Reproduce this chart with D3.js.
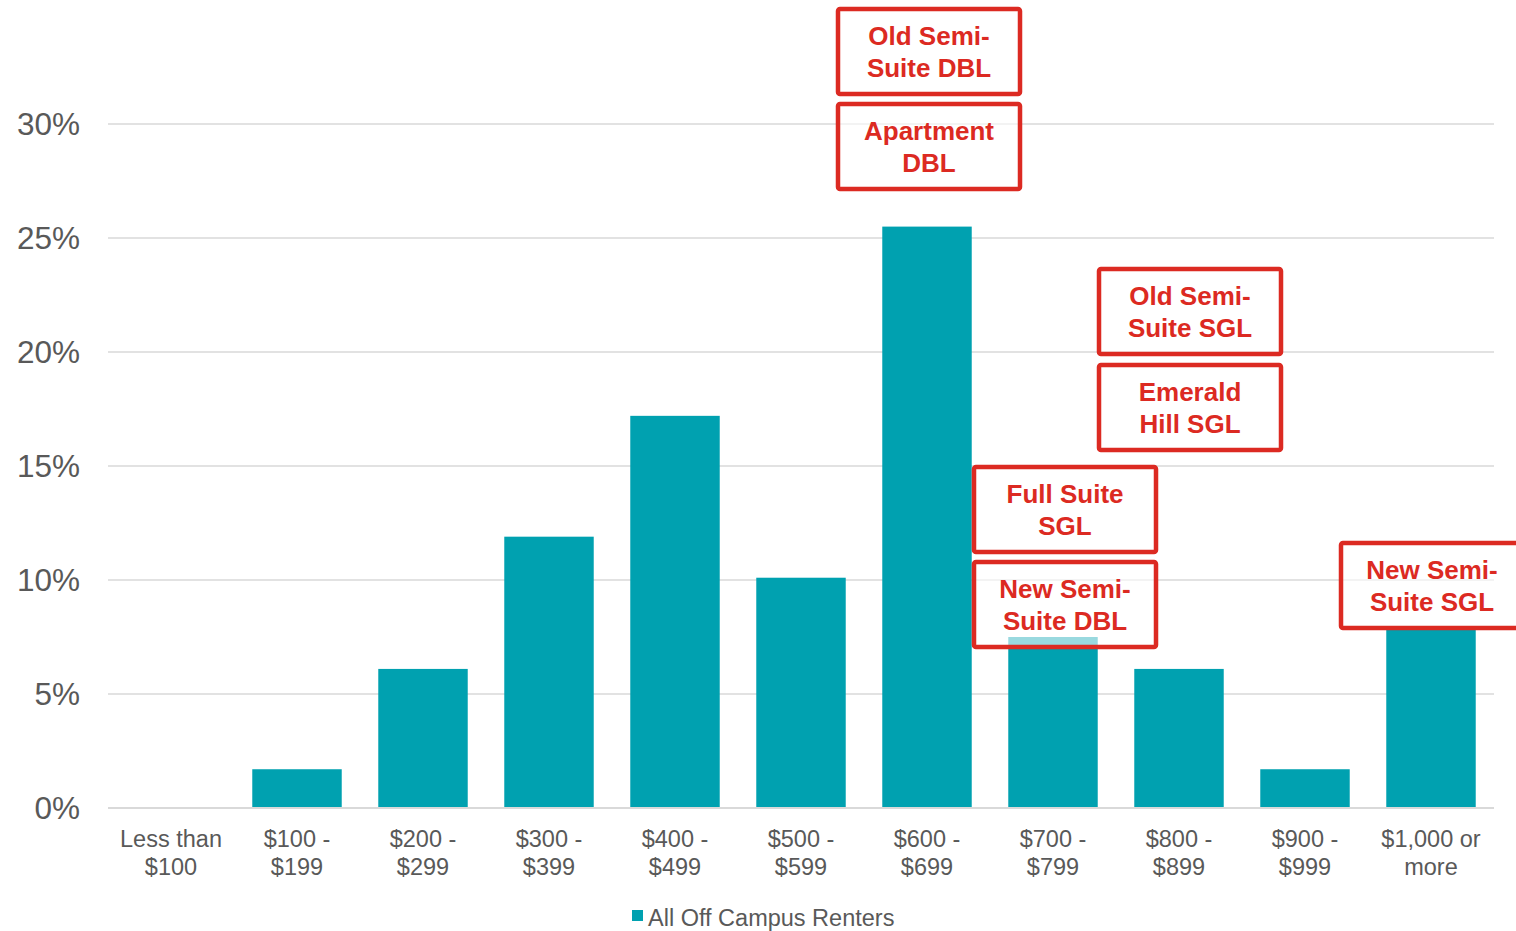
<!DOCTYPE html>
<html>
<head>
<meta charset="utf-8">
<script src="https://cdn.jsdelivr.net/npm/d3@7"></script>
<style>
  html, body { margin: 0; padding: 0; background: #fff; }
  svg { display: block; font-family: "Liberation Sans", Arial, sans-serif; }
</style>
</head>
<body>
<svg id="chart" width="1516" height="931"></svg>
<script>
// Monthly rent brackets (two-line labels)
const categories = [
  ["Less than", "$100"], ["$100 -", "$199"], ["$200 -", "$299"], ["$300 -", "$399"],
  ["$400 -", "$499"], ["$500 -", "$599"], ["$600 -", "$699"], ["$700 -", "$799"],
  ["$800 -", "$899"], ["$900 -", "$999"], ["$1,000 or", "more"]
];
// Share of all off-campus renters, percent
const renterShare = [0, 1.7, 6.1, 11.9, 17.2, 10.1, 25.5, 7.5, 6.1, 1.7, 7.9];
const seriesName = "All Off Campus Renters";
const yTicks = [0, 5, 10, 15, 20, 25, 30];

// On-campus room types placed over the matching rent bracket
const roomCategory = [6, 6, 8, 8, 7, 7, 10];
const roomLabels = [
  ["Old Semi-", "Suite DBL"], ["Apartment", "DBL"],
  ["Old Semi-", "Suite SGL"], ["Emerald", "Hill SGL"],
  ["Full Suite", "SGL"], ["New Semi-", "Suite DBL"],
  ["New Semi-", "Suite SGL"]
];

const svg = d3.select("#chart");
const margin = { left: 108, right: 22, top: 124, bottom: 123 };
const W = 1516, H = 931;

const x = d3.scaleBand()
  .domain(d3.range(categories.length))
  .range([margin.left, W - margin.right])
  .paddingInner(0.29)
  .paddingOuter(0.145);

const y = d3.scaleLinear()
  .domain([0, 30])
  .range([H - margin.bottom, margin.top]);

// Gridlines
svg.append("g")
  .selectAll("line")
  .data(yTicks.filter(t => t > 0))
  .join("line")
  .attr("x1", margin.left).attr("x2", W - margin.right)
  .attr("y1", d => y(d)).attr("y2", d => y(d))
  .attr("stroke", "#d9d9d9").attr("stroke-width", 1.3);

// Y-axis labels
const yAxis = d3.axisLeft(y).tickValues(yTicks).tickFormat(d => d + "%").tickSize(0).tickPadding(28);
const yg = svg.append("g").attr("transform", `translate(${margin.left},0)`).call(yAxis);
yg.select(".domain").remove();
yg.selectAll("text")
  .attr("fill", "#595959").attr("font-size", 31.5)
  .attr("font-family", "Liberation Sans, Arial, sans-serif");

// Bars
svg.append("g")
  .selectAll("rect")
  .data(renterShare)
  .join("rect")
  .attr("x", (d, i) => x(i))
  .attr("width", x.bandwidth())
  .attr("y", d => y(d))
  .attr("height", d => y(0) - y(d))
  .attr("fill", "#00a1b0");

// Baseline
svg.append("line")
  .attr("x1", margin.left).attr("x2", W - margin.right)
  .attr("y1", y(0)).attr("y2", y(0))
  .attr("stroke", "#d9d9d9").attr("stroke-width", 2);

// Category labels
const xg = svg.append("g");
categories.forEach((lines, i) => {
  const cx = x(i) + x.bandwidth() / 2;
  const t = xg.append("text")
    .attr("text-anchor", "middle")
    .attr("fill", "#595959")
    .attr("font-size", 23.5);
  lines.forEach((ln, k) => {
    t.append("tspan").attr("x", cx).attr("y", 847 + k * 28).text(ln);
  });
});

// Legend
const legend = svg.append("g").attr("transform", "translate(632,910)");
legend.append("rect").attr("width", 11).attr("height", 11).attr("fill", "#00a1b0");
legend.append("text").attr("x", 16).attr("y", 16)
  .attr("fill", "#595959").attr("font-size", 23.5).text(seriesName);

// Room-type callout boxes: horizontal nudge from the bracket centre and box top
const boxLayout = [
  { dx: 2, top: 9 }, { dx: 2, top: 104 },
  { dx: 11, top: 269 }, { dx: 11, top: 365 },
  { dx: 12, top: 467 }, { dx: 12, top: 562 },
  { dx: 1, top: 543 }
];
const boxW = 182, boxH = 85;
const boxes = svg.append("g");
roomLabels.forEach((lines, i) => {
  const cx = x(roomCategory[i]) + x.bandwidth() / 2 + boxLayout[i].dx;
  const top = boxLayout[i].top;
  const g = boxes.append("g");
  g.append("rect")
    .attr("x", cx - boxW / 2).attr("y", top)
    .attr("width", boxW).attr("height", boxH)
    .attr("rx", 2)
    .attr("fill", "#fff").attr("fill-opacity", 0.6)
    .attr("stroke", "#dc2a22").attr("stroke-width", 4.5);
  const t = g.append("text")
    .attr("text-anchor", "middle")
    .attr("fill", "#dc2a22")
    .attr("font-size", 26)
    .attr("font-weight", "bold");
  lines.forEach((ln, k) => {
    t.append("tspan").attr("x", cx).attr("y", top + 36 + k * 32).text(ln);
  });
});
</script>
</body>
</html>
